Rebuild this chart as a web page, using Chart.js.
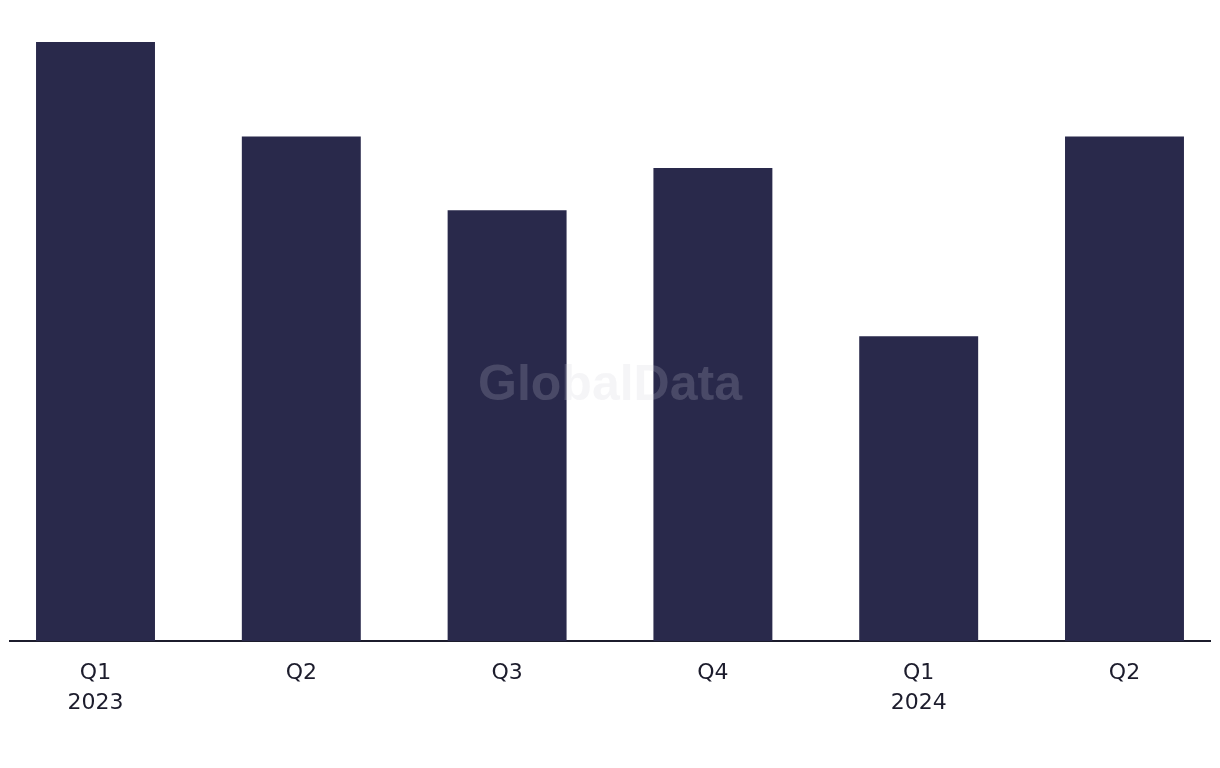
<!DOCTYPE html>
<html>
<head>
<meta charset="utf-8">
<script src="https://cdn.jsdelivr.net/npm/chart.js@4"></script>
<style>
  html, body { margin: 0; padding: 0; background: #fff; }
  #wrap { width: 1220px; height: 768px; position: relative; }
</style>
</head>
<body>
<div id="wrap"><canvas id="c"></canvas></div>
<script>
/* quarterly bar chart, GlobalData style */

const quarters = ["Q1", "Q2", "Q3", "Q4", "Q1", "Q2"];
const years = ["2023", "", "", "", "2024", ""];
const values = [57, 48, 41, 45, 29, 48];

const BAR = "#29294b";
const INK = "#1c1c2c";

const watermark = {
  id: "watermark",
  afterDatasetsDraw(chart) {
    const { ctx } = chart;
    ctx.save();
    ctx.font = "bold 50px 'Liberation Sans', Arial, sans-serif";
    ctx.fillStyle = "rgba(206,206,215,0.2)";
    ctx.textAlign = "center";
    ctx.textBaseline = "middle";
    ctx.fillText("GlobalData", 610, 386);
    ctx.restore();
  },
};

new Chart(document.getElementById("c"), {
  type: "bar",
  data: {
    datasets: [{
      data: values.map((v, i) => ({ x: i, y: v })),
      backgroundColor: BAR,
      barPercentage: 0.578,
      categoryPercentage: 1,
      borderWidth: 0,
    }],
  },
  options: {
    responsive: true,
    maintainAspectRatio: false,
    animation: false,
    layout: { padding: { top: 42, left: 10, right: 10, bottom: 0 } },
    plugins: { legend: { display: false }, tooltip: { enabled: false } },
    scales: {
      x: {
        type: "linear",
        offset: false,
        min: -0.4155,
        max: 5.4155,
        afterBuildTicks: (s) => { s.ticks = quarters.map((_, i) => ({ value: i })); },
        afterFit: (s) => { s.height = 127; },
        grid: { display: false, drawTicks: false, offset: false },
        border: { display: true, color: INK, width: 2 },
        ticks: {
          autoSkip: false,
          maxRotation: 0,
          padding: 17,
          color: INK,
          font: { family: "'DejaVu Sans', sans-serif", size: 22, lineHeight: "30px" },
          callback: (v) => (years[v] ? [quarters[v], years[v]] : quarters[v]),
        },
      },
      y: {
        min: 0,
        max: 57,
        display: false,
      },
    },
  },
  plugins: [watermark],
});
</script>
</body>
</html>
